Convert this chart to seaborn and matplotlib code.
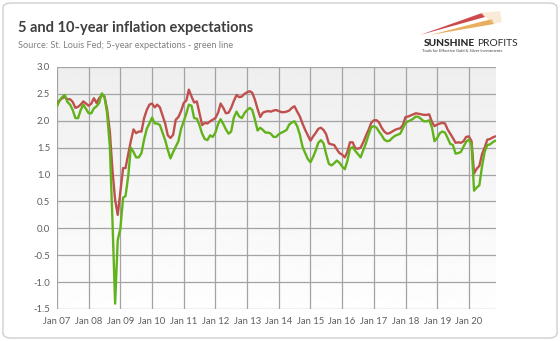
import numpy as np
import pandas as pd
import matplotlib
matplotlib.use("Agg")
import matplotlib.pyplot as plt
import matplotlib.dates as mdates
from matplotlib.patches import FancyBboxPatch, Polygon
import seaborn as sns

# Monthly breakeven inflation expectations (%), Jan 2007 - Nov 2020
start_month = "2007-01-01"

ten_year = [
    2.33, 2.38, 2.42, 2.44, 2.40, 2.40, 2.35, 2.24, 2.26, 2.30, 2.36, 2.32,  # 2007
    2.28, 2.32, 2.42, 2.33, 2.42, 2.48, 2.45, 2.21, 1.80, 1.09, 0.53, 0.25,  # 2008
    0.68, 1.12, 1.12, 1.38, 1.62, 1.84, 1.77, 1.80, 1.80, 2.05, 2.20, 2.30,  # 2009
    2.32, 2.25, 2.30, 2.25, 2.10, 1.95, 1.73, 1.68, 1.74, 2.02, 2.07, 2.18,  # 2010
    2.33, 2.38, 2.58, 2.45, 2.34, 2.36, 2.14, 1.92, 1.96, 1.95, 1.99, 2.02,  # 2011
    2.05, 2.15, 2.32, 2.24, 2.14, 2.15, 2.24, 2.37, 2.48, 2.44, 2.45, 2.50,  # 2012
    2.53, 2.55, 2.52, 2.39, 2.22, 2.07, 2.15, 2.17, 2.18, 2.17, 2.19, 2.20,  # 2013
    2.18, 2.16, 2.16, 2.17, 2.19, 2.24, 2.27, 2.17, 2.08, 1.95, 1.83, 1.73,  # 2014
    1.63, 1.71, 1.77, 1.85, 1.87, 1.83, 1.75, 1.58, 1.56, 1.55, 1.47, 1.40,  # 2015
    1.37, 1.32, 1.42, 1.60, 1.60, 1.49, 1.48, 1.50, 1.60, 1.72, 1.83, 1.96,  # 2016
    2.01, 2.01, 1.97, 1.87, 1.80, 1.76, 1.77, 1.80, 1.83, 1.85, 1.86, 1.92,  # 2017
    2.07, 2.08, 2.10, 2.12, 2.14, 2.13, 2.12, 2.11, 2.11, 2.12, 1.98, 1.90,  # 2018
    1.93, 1.95, 1.96, 1.95, 1.84, 1.76, 1.68, 1.59, 1.60, 1.59, 1.62, 1.70,  # 2019
    1.71, 1.62, 1.02, 1.11, 1.16, 1.38, 1.50, 1.65, 1.66, 1.69, 1.71,        # 2020
]

five_year = [
    2.27, 2.38, 2.44, 2.48, 2.35, 2.30, 2.20, 2.05, 2.05, 2.20, 2.30, 2.22,  # 2007
    2.14, 2.14, 2.23, 2.27, 2.33, 2.51, 2.45, 2.14, 1.52, 0.16, -1.40, -0.22,  # 2008
    0.00, 0.57, 0.60, 0.97, 1.50, 1.42, 1.32, 1.32, 1.40, 1.65, 1.85, 1.95,  # 2009
    2.06, 1.95, 1.95, 1.92, 1.78, 1.64, 1.46, 1.30, 1.42, 1.52, 1.62, 1.85,  # 2010
    1.99, 2.14, 2.30, 2.28, 2.05, 2.04, 1.92, 1.76, 1.66, 1.64, 1.73, 1.70,  # 2011
    1.78, 1.94, 2.03, 1.94, 1.84, 1.76, 1.80, 2.06, 2.17, 2.08, 2.05, 2.14,  # 2012
    2.20, 2.24, 2.20, 2.02, 1.82, 1.87, 1.83, 1.78, 1.78, 1.76, 1.70, 1.70,  # 2013
    1.75, 1.78, 1.80, 1.83, 1.93, 1.97, 1.99, 1.90, 1.74, 1.52, 1.40, 1.29,  # 2014
    1.23, 1.33, 1.44, 1.59, 1.64, 1.58, 1.38, 1.20, 1.17, 1.21, 1.26, 1.22,  # 2015
    1.15, 1.10, 1.25, 1.48, 1.51, 1.44, 1.38, 1.32, 1.45, 1.58, 1.74, 1.88,  # 2016
    1.90, 1.87, 1.80, 1.73, 1.65, 1.62, 1.63, 1.68, 1.72, 1.74, 1.76, 1.86,  # 2017
    1.96, 1.99, 2.01, 2.04, 2.08, 2.07, 2.03, 1.99, 1.99, 2.01, 1.88, 1.62,  # 2018
    1.68, 1.77, 1.80, 1.78, 1.68, 1.57, 1.55, 1.39, 1.40, 1.42, 1.52, 1.61,  # 2019
    1.65, 1.56, 0.70, 0.76, 0.80, 1.15, 1.42, 1.55, 1.56, 1.60, 1.63,        # 2020
]

series_names = ["10-year", "5-year"]
series_colors = ["#C0504D", "#62B21C"]
y_ticks = [-1.5, -1.0, -0.5, 0.0, 0.5, 1.0, 1.5, 2.0, 2.5, 3.0]
x_years = list(range(2007, 2021))

dates = pd.date_range(start_month, periods=len(ten_year), freq="MS")
df = pd.DataFrame({
    "date": np.concatenate([dates, dates]),
    "value": ten_year + five_year,
    "series": [series_names[0]] * len(ten_year) + [series_names[1]] * len(five_year),
})

sns.set_theme(style="white")
plt.rcParams["font.family"] = ["Lato", "DejaVu Sans"]

W, H = 560, 341
fig = plt.figure(figsize=(W / 100, H / 100), dpi=100)
fig.patch.set_facecolor("white")

# rounded frame around the whole graphic
frame = FancyBboxPatch((3 / W, 3 / H), 1 - 6 / W, 1 - 6 / H,
                       boxstyle="round,pad=0,rounding_size=0.015",
                       transform=fig.transFigure, facecolor="none",
                       edgecolor="#cfcfcf", linewidth=1.0, zorder=5)
fig.patches.append(frame)

ax = fig.add_axes([57 / W, 1 - 309 / H, (496 - 57) / W, (309 - 67) / H])
ax.set_facecolor("none")

# soft vertical gradient behind the plot
grad = np.linspace(0.935, 0.995, 256).reshape(-1, 1)
ax.imshow(grad, cmap="gray", vmin=0, vmax=1, extent=[0, 1, 0, 1],
          transform=ax.transAxes, aspect="auto", zorder=-2, origin="upper")

sns.lineplot(data=df, x="date", y="value", hue="series",
             hue_order=series_names, palette=series_colors,
             linewidth=1.7, legend=False, ax=ax, zorder=3)

ax.set_xlim(dates[0], dates[-1] + pd.Timedelta(days=8))
ax.set_ylim(-1.5, 3.0)
ax.set_yticks(y_ticks)
ax.set_yticklabels([f"{v:.1f}" for v in y_ticks])
ax.set_xticks([pd.Timestamp(f"{y}-01-01") for y in x_years])
ax.xaxis.set_major_formatter(mdates.DateFormatter("Jan %y"))

ax.grid(True, color="#a3a3a3", linewidth=0.9, zorder=1)
ax.set_axisbelow(True)
for s in ax.spines.values():
    s.set_visible(False)
ax.tick_params(axis="both", length=0, labelsize=6.8, labelcolor="#5f5f5f")
ax.tick_params(axis="y", pad=5)
ax.tick_params(axis="x", pad=6)
ax.set_xlabel("")
ax.set_ylabel("")

# heading
fig.text(18 / W, 1 - 28 / H, "5 and 10-year inflation expectations",
         fontsize=10.5, fontweight="bold", color="#3f3f3f", va="center", ha="left")
fig.text(18 / W, 1 - 46 / H, "Source: St. Louis Fed; 5-year expectations - green line",
         fontsize=6.6, color="#808080", va="center", ha="left")

# brand mark: two thin streaks above the wordmark
fig.patches.append(Polygon([(420 / W, 1 - 35 / H), (482 / W, 1 - 13 / H), (485 / W, 1 - 17 / H)],
                           closed=True, transform=fig.transFigure,
                           facecolor="#C42A2E", edgecolor="none", alpha=0.85))
fig.patches.append(Polygon([(430 / W, 1 - 35 / H), (492 / W, 1 - 19 / H), (494 / W, 1 - 24 / H)],
                           closed=True, transform=fig.transFigure,
                           facecolor="#E5A040", edgecolor="none", alpha=0.85))
fig.patches.append(Polygon([(480 / W, 1 - 13 / H), (500 / W, 1 - 11 / H), (502 / W, 1 - 22 / H),
                            (494 / W, 1 - 24 / H)],
                           closed=True, transform=fig.transFigure,
                           facecolor="#F4D9B0", edgecolor="none", alpha=0.5))
fig.text(475 / W, 1 - 43 / H, "SUNSHINE", fontsize=7.4, fontweight="black",
         color="#2b2b2b", va="center", ha="right")
fig.text(477 / W, 1 - 43 / H, "PROFITS", fontsize=7.4,
         color="#2b2b2b", va="center", ha="left")
fig.text(462 / W, 1 - 51 / H, "Tools for Effective Gold & Silver Investments",
         fontsize=3.0, color="#444444", va="center", ha="center")

fig.savefig("out.png", dpi=100)
